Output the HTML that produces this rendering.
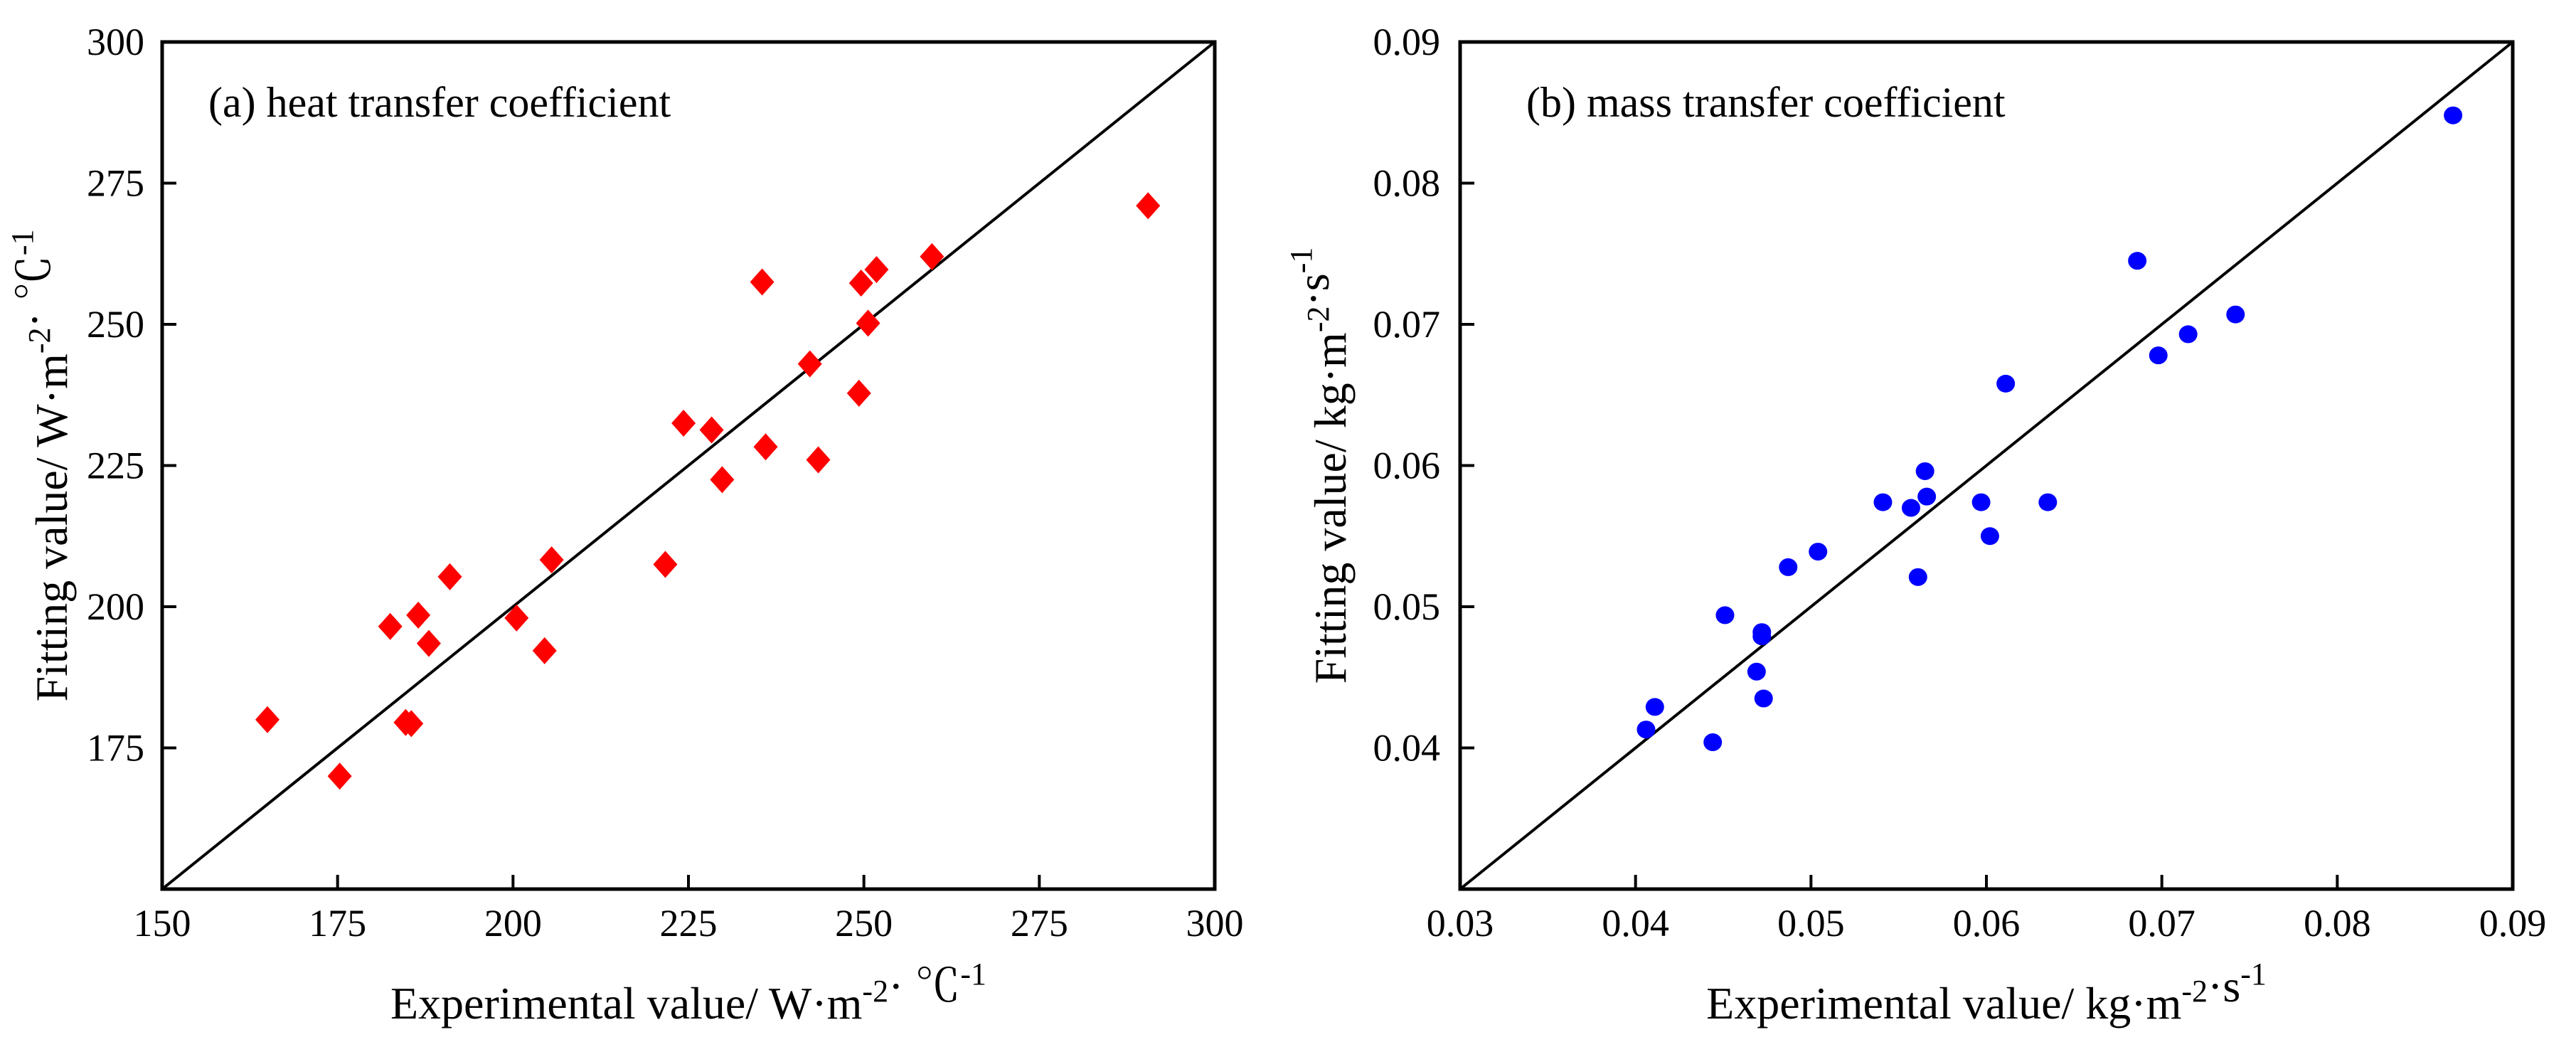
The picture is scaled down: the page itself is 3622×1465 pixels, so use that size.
<!DOCTYPE html>
<html><head><meta charset="utf-8"><style>
html,body{margin:0;padding:0;background:#fff;}
svg{display:block;}
text{font-family:"Liberation Serif","Noto Serif CJK SC",serif;}
</style></head><body>
<svg id="c" width="3622" height="1465" viewBox="0 0 3622 1465" xmlns="http://www.w3.org/2000/svg" font-family="Liberation Serif, serif"></svg>
<script>
const heatX=[165,175.3,182.5,184.7,185.5,186.5,188,191,200.5,204.5,205.5,221.7,224.3,228.3,229.8,235.5,236,242.3,243.5,249.3,249.6,250.6,251.8,259.7,290.5];
const heatY=[180,170,196.5,179.5,179.3,198.5,193.5,205.3,198,192.2,208.3,207.5,232.5,231.3,222.5,257.5,228.3,243,226,237.8,257.3,250.2,259.7,262,271];
const heatXTicks=[150,175,200,225,250,275,300];
const heatYTicks=[175,200,225,250,275,300];
const massX=[0.0406,0.0411,0.0444,0.0451,0.0469,0.0472,0.0472,0.0473,0.0487,0.0504,0.0541,0.0557,0.0561,0.0565,0.0566,0.0597,0.0602,0.0611,0.0635,0.0686,0.0698,0.0715,0.0742,0.0866];
const massY=[0.0413,0.0429,0.0404,0.0494,0.0454,0.0479,0.0482,0.0435,0.0528,0.0539,0.0574,0.0570,0.0521,0.0596,0.0578,0.0574,0.0550,0.0658,0.0574,0.0745,0.0678,0.0693,0.0707,0.0848];
const massXTicks=[0.03,0.04,0.05,0.06,0.07,0.08,0.09];
const massYTicks=[0.04,0.05,0.06,0.07,0.08,0.09];
const NS="http://www.w3.org/2000/svg";
const FF='Liberation Serif, serif';
const svg=document.getElementById('c');
function mk(tag,attrs,parent){const e=document.createElementNS(NS,tag);for(const k in attrs)e.setAttribute(k,attrs[k]);if(tag==='text')e.setAttribute('font-family',FF);(parent||svg).appendChild(e);return e;}
function panel(o){
  const g=mk('g',{});
  
  
  const L=o.left,R=o.left+1480,T=59,B=1250;
  const sx=v=>L+(v-o.min)/(o.max-o.min)*(R-L);
  const sy=v=>B-(v-o.min)/(o.max-o.min)*(B-T);
  const dl=mk('line',{x1:sx(o.min),y1:sy(o.min),x2:sx(o.max),y2:sy(o.max),stroke:'#000','stroke-width':4},g);
  
  
  o.xt.forEach(v=>{
    const t=mk('line',{x1:sx(v),y1:B,x2:sx(v),y2:B-20,stroke:'#000','stroke-width':4},g);
    
    
    const tx=mk('text',{x:sx(v),y:1316,'font-size':54,'text-anchor':'middle'},g);
    tx.textContent=o.fmt(v);
    
    
  });
  o.yt.forEach(v=>{
    const t=mk('line',{x1:L,y1:sy(v),x2:L+20,y2:sy(v),stroke:'#000','stroke-width':4},g);
    
    
    const tx=mk('text',{x:o.labelRight,y:sy(v)+18,'font-size':54,'text-anchor':'end'},g);
    tx.textContent=o.fmt(v);
    
    
  });
  o.xs.forEach((x,i)=>{
    const cx=sx(x),cy=sy(o.ys[i]);let m;
    if(o.marker==='diamond'){
      m=mk('polygon',{points:`${cx},${cy-19} ${cx+17},${cy} ${cx},${cy+19} ${cx-17},${cy}`,fill:'#ff0000'},g);
    }else{
      m=mk('ellipse',{cx:cx,cy:cy,rx:13,ry:12.5,fill:'#0000ff'},g);
    }
    
    
  });
  const fr=mk('rect',{x:L,y:T,width:R-L,height:B-T,fill:'none',stroke:'#000','stroke-width':5},g);
  
  
  const an=mk('text',{x:o.annX,y:164,'font-size':60},g);
  an.textContent=o.ann;
  
  
  const xt=mk('text',{x:(L+R)/2,y:1432,'font-size':64,'text-anchor':'middle'},g);
  xt.innerHTML=o.xtitle;
  
  
  const yt=mk('text',{x:0,y:0,'font-size':64,'text-anchor':'middle',transform:`translate(${o.ytX},${(T+B)/2}) rotate(-90)`},g);
  yt.innerHTML=o.ytitle;
  
  
}
const sup=s=>`<tspan dy="-24" font-size="44">${s}</tspan><tspan dy="24"></tspan>`;
panel({name:'heat-panel',left:228,min:150,max:300,xt:heatXTicks,yt:heatYTicks,xs:heatX,ys:heatY,marker:'diamond',fmt:v=>String(v),labelRight:203,annX:293,ann:'(a) heat transfer coefficient',
  xtitle:'Experimental value/ W·m'+sup('-2')+'· ℃'+sup('-1'),ytitle:'Fitting value/ W·m'+sup('-2')+'· ℃'+sup('-1'),ytX:94});
panel({name:'mass-panel',left:2053,min:0.03,max:0.09,xt:massXTicks,yt:massYTicks,xs:massX,ys:massY,marker:'circle',fmt:v=>v.toFixed(2),labelRight:2025,annX:2146,ann:'(b) mass transfer coefficient',
  xtitle:'Experimental value/ kg·m'+sup('-2')+'·s'+sup('-1'),ytitle:'Fitting value/ kg·m'+sup('-2')+'·s'+sup('-1'),ytX:1892});
</script>
</body></html>
